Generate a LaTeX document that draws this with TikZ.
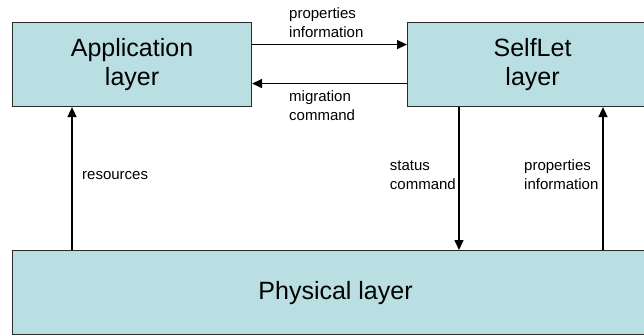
\documentclass[tikz,border=0pt]{standalone}
\usepackage{fontspec}
\setmainfont{Liberation Sans}
\usetikzlibrary{arrows.meta}
\definecolor{layerfill}{HTML}{B9DFE3}
\definecolor{layerline}{HTML}{2A2A2A}
\begin{document}
\begin{tikzpicture}[x=1pt,y=-1pt,
  layerbox/.style={draw=layerline, line width=1.1pt, fill=layerfill, anchor=north west,
    inner sep=0pt, align=center, font=\fontsize{25}{29}\selectfont},
  flow/.style={line width=1.5pt, -{Triangle[length=10pt,width=9pt]}},
  lbl/.style={inner sep=0pt, font=\fontsize{15}{19}\selectfont}]
\useasboundingbox (0,0) rectangle (644,335);
\fill[white] (0,0) rectangle (644,335);

% the three layers (the right-hand ones run past the page edge)
\node[layerbox, minimum width=239pt, minimum height=84pt] (app) at (12,22) {Application\\layer};
\node[layerbox, minimum width=250pt, minimum height=84pt] (self) at (407,22) {SelfLet\\layer};
\node[layerbox, minimum width=646pt, minimum height=84pt] (phys) at (12,250) {Physical layer};

% horizontal exchanges
\draw[flow] ([yshift=20pt]app.east) -- ([yshift=20pt]app.east -| self.west);
\draw[flow] ([yshift=-19pt]app.east -| self.west) -- ([yshift=-19pt]app.east);

% vertical exchanges
\draw[flow] (phys.north -| 72,0) -- (app.south -| 72,0);
\draw[flow] (self.south -| 459,0) -- (phys.north -| 459,0);
\draw[flow] (phys.north -| 603,0) -- (self.south -| 603,0);

% labels
\node[lbl, anchor=west, align=left] (l1) at (289,22.5) {properties\\information};
\node[lbl, anchor=west, align=left] (l2) at (289,106) {migration\\command};
\node[lbl, anchor=west] (l3) at (82,176) {resources};
\node[lbl, anchor=east, align=left] (l4) at (456,175) {status\\command};
\node[lbl, anchor=west, align=left] (l5) at (524,175) {properties\\information};
\end{tikzpicture}
\end{document}
